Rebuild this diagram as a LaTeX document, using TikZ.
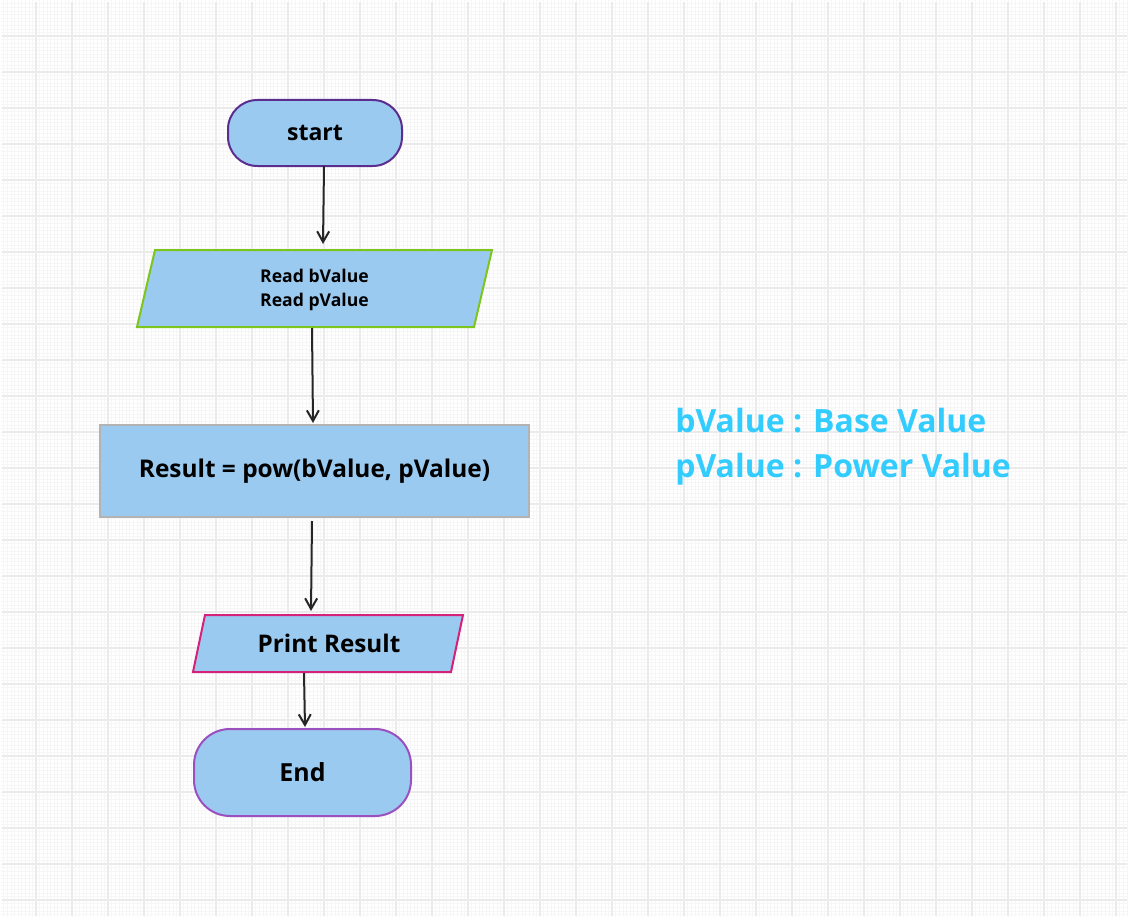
\documentclass[tikz,border=0pt]{standalone}
\usepackage{fontspec}
\setmainfont{Open Sans}
\usetikzlibrary{arrows.meta,backgrounds}
\definecolor{boxfill}{HTML}{9ACAF0}
\definecolor{startline}{HTML}{5B2D8E}
\definecolor{endline}{HTML}{9A50BE}
\definecolor{readline}{HTML}{7CC51C}
\definecolor{calcline}{HTML}{B3B3B3}
\definecolor{printline}{HTML}{D6217B}
\definecolor{arrowline}{HTML}{262626}
\definecolor{notecolor}{HTML}{33CCFF}
\definecolor{gridmajor}{HTML}{EBEBEB}
\definecolor{gridminor}{HTML}{F6F6F6}
\begin{document}
\begin{tikzpicture}[x=0.75pt,y=-0.75pt,
    box/.style={draw, fill=boxfill, line width=1.5pt, align=center, inner sep=0pt, text=black},
    terminal/.style={box, rectangle, rounded corners=#1},
    io/.style={rectangle, align=center, inner sep=0pt, text=black},
    ioline/.style={draw=#1, fill=boxfill, line width=1.5pt, line join=miter},
    arr/.style={draw=arrowline, line width=1.5pt, -{Straight Barb[length=8pt,width=9pt,line width=1.5pt]}},
    note/.style={text=notecolor, anchor=base west, inner sep=0pt,
        font=\fontsize{24pt}{28pt}\selectfont\bfseries}]
    % \clip (0,0) rectangle (1128,917);
    \useasboundingbox (0,0) rectangle (1128,917);

    % Drawing the grid
    \begin{scope}[on background layer]
        \fill[white] (0,0) rectangle (1128,917);
        \draw[gridminor, line width=0.4pt, step=2.7pt] (0.5,0.5) grid (1127.5,916.5);
        \draw[gridmajor, line width=1.5pt, step=27pt] (2,2) grid (1127,916);
    \end{scope}

    % Node start
    \node[terminal=22pt, draw=startline, minimum width=130.5pt, minimum height=49.5pt,
        font=\fontsize{17.3pt}{22pt}\selectfont\bfseries] (start) at (315,133) {start};

    % Node read
    \node[io, font=\fontsize{13.2pt}{18pt}\selectfont\bfseries] (read) at (314.5,290)
        {Read bValue\\Read pValue};

    % Node result
    \node[box, rectangle, draw=calcline, minimum width=321.75pt, minimum height=69pt,
        font=\fontsize{18.3pt}{22pt}\selectfont\bfseries] (result) at (314.5,471)
        {Result = pow(bValue, pValue)};

    % Node print
    \node[io, font=\fontsize{18.2pt}{22pt}\selectfont\bfseries] (print) at (329,643.5)
        {Print Result};

    % Node end
    \node[terminal=27pt, draw=endline, minimum width=162.75pt, minimum height=65.25pt,
        font=\fontsize{18.7pt}{22pt}\selectfont\bfseries] (end) at (302.5,772.5) {End};

    % Drawing the two parallelograms behind their texts
    \begin{scope}[on background layer]
        \draw[ioline=readline] ([shift={(-159.5,-40)}]read.center) -- ([shift={(177.5,-40)}]read.center)
            -- ([shift={(159.5,37)}]read.center) -- ([shift={(-177.5,37)}]read.center) -- cycle;
        \draw[ioline=printline] ([shift={(-124,-28.5)}]print.center) -- ([shift={(134,-28.5)}]print.center)
            -- ([shift={(122,28.5)}]print.center) -- ([shift={(-136,28.5)}]print.center) -- cycle;
    \end{scope}

    % Drawing arrows
    \draw[arr] ([shift={(9,33)}]start.center) -- ([shift={(8.5,-46)}]read.center);
    \draw[arr] ([shift={(-2.5,38)}]read.center) -- ([shift={(-1.5,-48)}]result.center);
    \draw[arr] ([shift={(-2.5,50)}]result.center) -- ([shift={(-18,-32.5)}]print.center);
    \draw[arr] ([shift={(-25,29.5)}]print.center) -- ([shift={(2.5,-45.5)}]end.center);

    % Marking the notes
    \node[note] (bval) at (675,432) {bValue : Base Value};
    \node[note] (pval) at (675,477) {pValue : Power Value};
\end{tikzpicture}
\end{document}
